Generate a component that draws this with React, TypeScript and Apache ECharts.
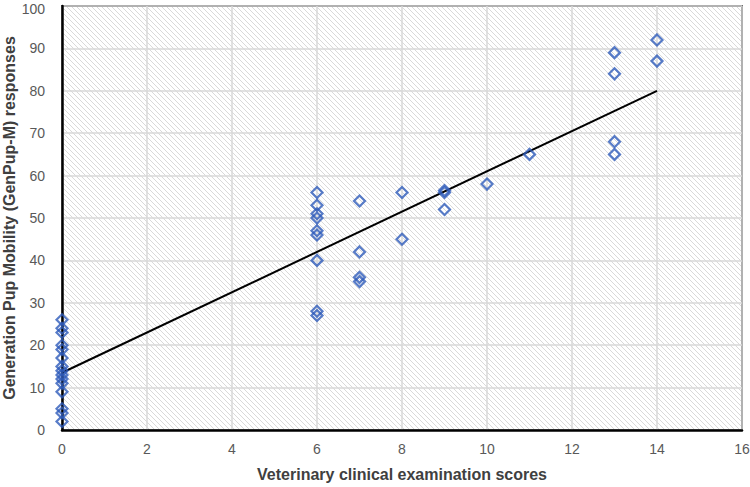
import React, { useEffect, useRef } from "react";
import * as echarts from "echarts";

const scoresX: number[] = [
  0, 0, 0, 0, 0, 0, 0, 0, 0, 0, 0, 0, 0, 0, 0,
  6, 6, 6, 6, 6, 6, 6, 6, 6,
  7, 7, 7, 7,
  8, 8,
  9, 9, 9,
  10,
  11,
  13, 13, 13, 13,
  14, 14,
];
const responsesY: number[] = [
  26, 24, 23, 20, 19, 17, 15, 14, 13, 12, 11, 9, 5, 4, 2,
  56, 53, 51, 50, 47, 46, 40, 28, 27,
  54, 42, 36, 35,
  56, 45,
  56, 56.5, 52,
  58,
  65,
  89, 84, 68, 65,
  92, 87,
];
const trendX: number[] = [0, 14];
const trendY: number[] = [13.5, 80];

const xTitle = "Veterinary clinical examination scores";
const yTitle = "Generation Pup Mobility (GenPup-M) responses";

function makeHatch(): string {
  const n = 5;
  const c = document.createElement("canvas");
  c.width = n;
  c.height = n;
  const ctx = c.getContext("2d")!;
  ctx.fillStyle = "#ffffff";
  ctx.fillRect(0, 0, n, n);
  ctx.fillStyle = "#d9d9d9";
  for (let i = 0; i < n; i++) ctx.fillRect(i, i, 1, 1);
  return c.toDataURL();
}

export default function App() {
  const ref = useRef<HTMLDivElement>(null);
  useEffect(() => {
    if (!ref.current) return;
    const chart = echarts.init(ref.current, undefined, { renderer: "svg" });
    const hatch = makeHatch();
    const font = "'Liberation Sans', Arial, sans-serif";
    chart.setOption({
      animation: false,
      textStyle: { fontFamily: font },
      grid: {
        show: true,
        left: 62,
        right: 8,
        top: 6,
        bottom: 57,
        outerBoundsMode: "none",
        containLabel: false,
        borderColor: "#000",
        borderWidth: 1.5,
        backgroundColor: {
          image: hatch,
          repeat: "repeat",
          imageWidth: 5,
          imageHeight: 5,
        } as any,
      } as any,
      xAxis: {
        type: "value",
        min: 0,
        max: 16,
        interval: 2,
        name: xTitle,
        nameLocation: "middle",
        nameGap: 36,
        nameMoveOverlap: false,
        nameTextStyle: { color: "#404040", fontSize: 16, fontWeight: "bold", fontFamily: font },
        axisLine: { show: true, onZero: false, lineStyle: { color: "#000", width: 2.5 } },
        axisTick: { show: false },
        axisLabel: { color: "#595959", fontSize: 14, margin: 12, fontFamily: font },
        splitLine: { show: true, lineStyle: { color: "#d9d9d9", width: 1.5 } },
      } as any,
      yAxis: {
        type: "value",
        min: 0,
        max: 100,
        interval: 10,
        name: yTitle,
        nameLocation: "middle",
        nameGap: 45,
        nameMoveOverlap: false,
        nameTextStyle: { color: "#404040", fontSize: 16, fontWeight: "bold", fontFamily: font },
        axisLine: { show: true, onZero: false, lineStyle: { color: "#000", width: 2.5 } },
        axisTick: { show: false },
        axisLabel: {
          color: "#595959",
          fontSize: 14,
          margin: 17,
          fontFamily: font,
          formatter: (v: number) => (v === 100 ? "{t|" + v + "}" : String(v)),
          rich: {
            t: { color: "#595959", fontSize: 14, fontFamily: font, lineHeight: 14, padding: [5, 0, 0, 0] },
          },
        },
        splitLine: { show: true, lineStyle: { color: "#d9d9d9", width: 1.5 } },
      } as any,
      series: [
        {
          type: "line",
          data: trendX.map((x, i) => [x, trendY[i]]),
          symbol: "none",
          lineStyle: { color: "#000", width: 2 },
          z: 2,
        },
        {
          type: "scatter",
          data: scoresX.map((x, i) => [x, responsesY[i]]),
          symbol: "diamond",
          symbolSize: 11,
          itemStyle: { color: "rgba(255,255,255,0)", borderColor: "#2E5BBA", borderWidth: 2.2 },
          z: 3,
        },
      ],
    });
    return () => chart.dispose();
  }, []);
  return <div ref={ref} style={{ width: 750, height: 487, position: "absolute", left: 0, top: 0 }} />;
}
